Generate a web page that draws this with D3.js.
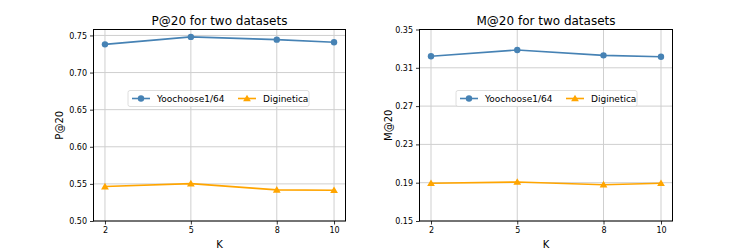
<!DOCTYPE html>
<html>
<head>
<meta charset="utf-8">
<script src="https://cdn.jsdelivr.net/npm/d3@7"></script>
<style>
  body { margin: 0; background: #fff; }
  svg { font-family: "DejaVu Sans", sans-serif; display: block; }
</style>
</head>
<body>
<div id="viz"></div>
<script>
const width = 747;
const height = 249;

// Data
const kValues = [2, 5, 8, 10];
const seriesNames = ['Yoochoose1/64', 'Diginetica'];
const pYoochoose = [0.738, 0.748, 0.7443, 0.7408];
const pDiginetica = [0.5464, 0.5504, 0.5419, 0.5414];
const mYoochoose = [0.322, 0.3286, 0.323, 0.3216];
const mDiginetica = [0.1894, 0.1907, 0.1879, 0.1894];
const pTicks = [0.50, 0.55, 0.60, 0.65, 0.70, 0.75];
const mTicks = [0.15, 0.19, 0.23, 0.27, 0.31, 0.35];

const colors = ['#4682b4', '#ffa500'];
const gridColor = '#cfcfcf';

const svg = d3.select('#viz')
  .append('svg')
    .attr('width', width)
    .attr('height', height);

// Draw one panel
const drawPanel = (opts) => {
  const {left, right, top, bottom, yDomain, yTicks, title, yLabel, series, legendX, legendW, legendY, labelX} = opts;

  const xScale = d3.scaleLinear()
    .domain([1.6, 10.4])
    .range([left, right]);
  const yScale = d3.scaleLinear()
    .domain(yDomain)
    .range([bottom, top]);

  const g = svg.append('g');

  // Grid
  g.append('g')
    .selectAll('line')
    .data(kValues)
    .join('line')
      .attr('x1', d => xScale(d)).attr('x2', d => xScale(d))
      .attr('y1', top).attr('y2', bottom)
      .attr('stroke', gridColor).attr('stroke-width', 1);
  g.append('g')
    .selectAll('line')
    .data(yTicks)
    .join('line')
      .attr('x1', left).attr('x2', right)
      .attr('y1', d => yScale(d)).attr('y2', d => yScale(d))
      .attr('stroke', gridColor).attr('stroke-width', 1);

  // Lines and markers
  series.forEach((values, i) => {
    const pts = values.map((v, j) => [kValues[j], v]);
    const line = d3.line()
      .x(d => xScale(d[0]))
      .y(d => yScale(d[1]));
    g.append('path')
      .attr('d', line(pts))
      .attr('fill', 'none')
      .attr('stroke', colors[i])
      .attr('stroke-width', 1.6);
    if (i === 0) {
      g.append('g')
        .selectAll('circle')
        .data(pts)
        .join('circle')
          .attr('cx', d => xScale(d[0]))
          .attr('cy', d => yScale(d[1]))
          .attr('r', 3.2)
          .attr('fill', colors[i]);
    } else {
      g.append('g')
        .selectAll('path')
        .data(pts)
        .join('path')
          .attr('d', d3.symbol(d3.symbolTriangle, 26))
          .attr('transform', d => `translate(${xScale(d[0])},${yScale(d[1]) + 0.6})`)
          .attr('fill', colors[i]);
    }
  });

  // Axes
  const xAxis = d3.axisBottom(xScale)
    .tickValues(kValues)
    .tickSize(3.5)
    .tickPadding(3)
    .tickSizeOuter(0);
  const xAxisGroup = g.append('g')
    .attr('transform', `translate(0, ${bottom})`)
    .style('font-size', '8px')
    .call(xAxis);
  const yAxis = d3.axisLeft(yScale)
    .tickValues(yTicks)
    .tickFormat(d3.format('.2f'))
    .tickSize(3.5)
    .tickPadding(3)
    .tickSizeOuter(0);
  const yAxisGroup = g.append('g')
    .attr('transform', `translate(${left}, 0)`)
    .style('font-size', '8px')
    .call(yAxis);
  [xAxisGroup, yAxisGroup].forEach(ax => {
    ax.select('.domain').remove();
    ax.selectAll('text').attr('fill', '#000').style('font-family', '"DejaVu Sans", sans-serif');
    ax.selectAll('line').attr('stroke', '#000').attr('stroke-width', 0.8);
  });

  // Frame
  g.append('rect')
    .attr('x', left).attr('y', top)
    .attr('width', right - left).attr('height', bottom - top)
    .attr('fill', 'none')
    .attr('stroke', '#000')
    .attr('stroke-width', 1);

  // Title and labels
  g.append('text')
    .attr('x', (left + right) / 2)
    .attr('y', top - 4.5)
    .attr('text-anchor', 'middle')
    .style('font-size', '12px')
    .text(title);
  g.append('text')
    .attr('x', (left + right) / 2)
    .attr('y', 247.5)
    .attr('text-anchor', 'middle')
    .style('font-size', '10px')
    .text('K');
  g.append('text')
    .attr('transform', `translate(${labelX}, ${(top + bottom) / 2}) rotate(-90)`)
    .attr('text-anchor', 'middle')
    .attr('dy', '0.35em')
    .style('font-size', '10px')
    .text(yLabel);

  // Legend
  const lg = g.append('g').attr('transform', `translate(${legendX}, ${legendY})`);
  lg.append('rect')
    .attr('x', 0).attr('y', 0)
    .attr('width', legendW).attr('height', 16)
    .attr('rx', 2)
    .attr('fill', '#fff').attr('fill-opacity', 0.8)
    .attr('stroke', '#d6d6d6').attr('stroke-width', 0.8);
  const entryX = [4, 110];
  seriesNames.forEach((name, i) => {
    const ex = entryX[i];
    lg.append('line')
      .attr('x1', ex).attr('x2', ex + 18)
      .attr('y1', 8).attr('y2', 8)
      .attr('stroke', colors[i]).attr('stroke-width', 1.6);
    if (i === 0) {
      lg.append('circle').attr('cx', ex + 9).attr('cy', 8).attr('r', 3.2).attr('fill', colors[i]);
    } else {
      lg.append('path')
        .attr('d', d3.symbol(d3.symbolTriangle, 26))
        .attr('transform', `translate(${ex + 9}, 8.6)`)
        .attr('fill', colors[i]);
    }
    lg.append('text')
      .attr('x', ex + 25)
      .attr('y', 8)
      .attr('dy', '0.35em')
      .style('font-size', '9px')
      .text(name);
  });
};

drawPanel({
  left: 93.5, right: 345.5, top: 29.5, bottom: 221,
  yDomain: [0.5, 0.758], yTicks: pTicks,
  title: 'P@20 for two datasets', yLabel: 'P@20',
  series: [pYoochoose, pDiginetica],
  legendX: 128, legendW: 181, legendY: 90.5, labelX: 59
});

drawPanel({
  left: 419.5, right: 672.5, top: 29.5, bottom: 221,
  yDomain: [0.15, 0.35], yTicks: mTicks,
  title: 'M@20 for two datasets', yLabel: 'M@20',
  series: [mYoochoose, mDiginetica],
  legendX: 456, legendW: 181, legendY: 90.5, labelX: 388
});
</script>
</body>
</html>
